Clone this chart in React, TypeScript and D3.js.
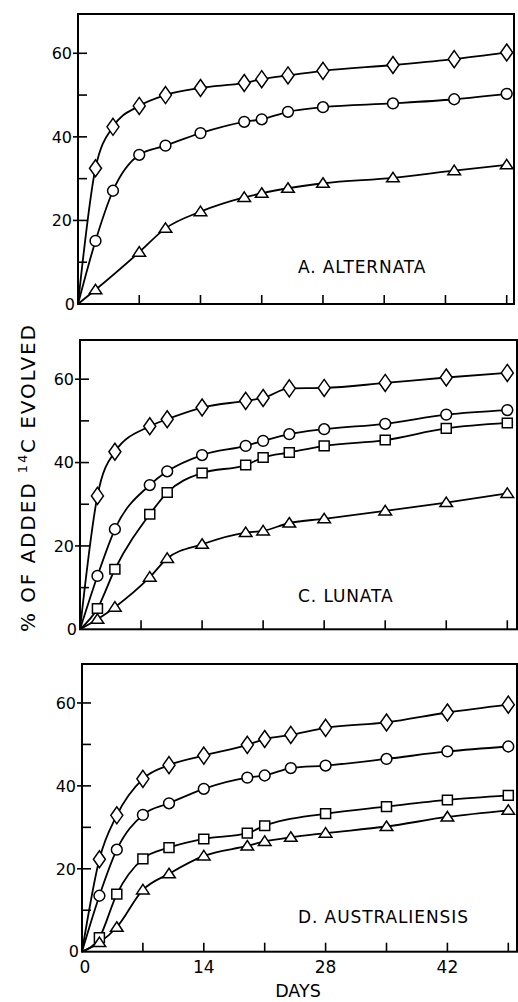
import React from 'react';
import * as d3 from 'd3';

// ---------- DATA ----------
const X_TICKS = [7, 14, 21, 28, 35, 42, 49];
const X_TICK_LABELS = [0, 14, 28, 42];
const Y_MAJOR = [20, 40, 60];
const Y_MINOR = [10, 30, 50];

// Panel A. ALTERNATA
const A_DAYS = [2, 4, 7, 10, 14, 19, 21, 24, 28, 36, 43, 49];
const A_TRI_DAYS = [2, 7, 10, 14, 19, 21, 24, 28, 36, 43, 49];
const A_DIAMOND = [32.5, 42.4, 47.4, 50.0, 51.7, 52.9, 53.8, 54.7, 55.8, 57.2, 58.6, 60.2];
const A_CIRCLE = [15.1, 27.1, 35.7, 37.9, 40.9, 43.6, 44.2, 46.0, 47.1, 48.0, 49.0, 50.3];
const A_TRIANGLE = [3.4, 12.4, 18.1, 22.1, 25.5, 26.5, 27.7, 28.9, 30.2, 31.9, 33.3];

// Panel C. LUNATA
const C_DAYS = [2, 4, 8, 10, 14, 19, 21, 24, 28, 35, 42, 49];
const C_DIAMOND = [32.0, 42.6, 48.7, 50.4, 53.2, 54.8, 55.5, 57.8, 57.9, 59.1, 60.4, 61.5];
const C_CIRCLE = [12.8, 24.0, 34.6, 37.9, 41.8, 44.0, 45.2, 46.8, 48.0, 49.3, 51.5, 52.6];
const C_SQUARE = [5.0, 14.4, 27.6, 32.8, 37.5, 39.4, 41.2, 42.4, 44.0, 45.4, 48.2, 49.5];
const C_TRIANGLE = [2.4, 5.3, 12.5, 17.0, 20.4, 23.2, 23.6, 25.5, 26.5, 28.4, 30.4, 32.6];

// Panel D. AUSTRALIENSIS
const D_DAYS = [2, 4, 7, 10, 14, 19, 21, 24, 28, 35, 42, 49];
const D_SQ_DAYS = [2, 4, 7, 10, 14, 19, 21, 28, 35, 42, 49];
const D_DIAMOND = [22.3, 32.9, 41.7, 45.0, 47.3, 49.9, 51.3, 52.3, 54.0, 55.3, 57.7, 59.6];
const D_CIRCLE = [13.5, 24.6, 33.0, 35.8, 39.3, 42.0, 42.5, 44.3, 44.9, 46.5, 48.3, 49.5];
const D_SQUARE = [3.4, 13.9, 22.4, 25.1, 27.2, 28.6, 30.4, 33.3, 35.0, 36.6, 37.7];
const D_TRIANGLE = [2.2, 5.9, 14.9, 18.8, 23.1, 25.5, 26.6, 27.6, 28.6, 30.2, 32.5, 34.1];

const PANEL_LABELS = ['A. ALTERNATA', 'C. LUNATA', 'D. AUSTRALIENSIS'];
const Y_LABEL_PRE = '% OF ADDED ';
const Y_LABEL_SUP = '14';
const Y_LABEL_POST = 'C EVOLVED';
const X_LABEL = 'DAYS';

// ---------- LAYOUT ----------
const W = 518;
const H = 1002;
const Y_MAX = 69.4;
const FONT = "'DejaVu Sans', sans-serif";

type Marker = 'diamond' | 'circle' | 'square' | 'triangle';
interface Series { marker: Marker; days: number[]; values: number[]; }

const panels = [
  {
    label: PANEL_LABELS[0], left: 78, right: 514, top: 14, bottom: 304, x49: 506.7, labelY: 272.7,
    series: [
      { marker: 'diamond', days: A_DAYS, values: A_DIAMOND },
      { marker: 'circle', days: A_DAYS, values: A_CIRCLE },
      { marker: 'triangle', days: A_TRI_DAYS, values: A_TRIANGLE },
    ] as Series[],
  },
  {
    label: PANEL_LABELS[1], left: 80, right: 517, top: 340, bottom: 629.3, x49: 507.3, labelY: 601.7,
    series: [
      { marker: 'diamond', days: C_DAYS, values: C_DIAMOND },
      { marker: 'circle', days: C_DAYS, values: C_CIRCLE },
      { marker: 'square', days: C_DAYS, values: C_SQUARE },
      { marker: 'triangle', days: C_DAYS, values: C_TRIANGLE },
    ] as Series[],
  },
  {
    label: PANEL_LABELS[2], left: 82, right: 517, top: 664, bottom: 951.7, x49: 508.3, labelY: 922.7,
    series: [
      { marker: 'diamond', days: D_DAYS, values: D_DIAMOND },
      { marker: 'circle', days: D_DAYS, values: D_CIRCLE },
      { marker: 'square', days: D_SQ_DAYS, values: D_SQUARE },
      { marker: 'triangle', days: D_DAYS, values: D_TRIANGLE },
    ] as Series[],
  },
];

function MarkerShape({ type, x, y }: { type: Marker; x: number; y: number }) {
  const common = { fill: 'white', stroke: 'black', strokeWidth: 1.5 };
  if (type === 'circle') return <circle cx={x} cy={y} r={5.4} {...common} />;
  let d = '';
  if (type === 'diamond') d = 'M0,-8.5L6,0L0,8.5L-6,0Z';
  else if (type === 'square') d = 'M-5,-4.8H5V4.8H-5Z';
  else d = 'M0,-5.5L6.3,4L-6.3,4Z';
  return <path d={d} transform={`translate(${x},${y})`} {...common} />;
}

function Panel({ p, showX }: { p: (typeof panels)[number]; showX: boolean }) {
  const x = d3.scaleLinear().domain([0, 49]).range([p.left, p.x49]);
  const y = d3.scaleLinear().domain([0, Y_MAX]).range([p.bottom, p.top]);
  const line = d3
    .line<[number, number]>()
    .x((d) => x(d[0]))
    .y((d) => y(d[1]))
    .curve(d3.curveMonotoneX);

  return (
    <g>
      {/* frame */}
      <rect x={p.left} y={p.top} width={p.right - p.left} height={p.bottom - p.top}
        fill="none" stroke="black" strokeWidth={2} />
      {/* y ticks */}
      {Y_MAJOR.map((v) => (
        <g key={'ym' + v}>
          <line x1={p.left - 5} x2={p.left + 9} y1={y(v)} y2={y(v)} stroke="black" strokeWidth={1.6} />
          <text x={p.left - 6} y={y(v)} dy="0.36em" textAnchor="end" fontSize={16} fontFamily={FONT}>{v}</text>
        </g>
      ))}
      {Y_MINOR.map((v) => (
        <line key={'yn' + v} x1={p.left} x2={p.left + 9} y1={y(v)} y2={y(v)} stroke="black" strokeWidth={1.6} />
      ))}
      <text x={p.left - 3} y={y(0)} dy="0.36em" textAnchor="end" fontSize={16} fontFamily={FONT}>0</text>
      {/* x ticks */}
      {X_TICKS.map((v) => (
        <line key={'xt' + v} x1={x(v)} x2={x(v)} y1={p.bottom} y2={p.bottom - 9} stroke="black" strokeWidth={1.6} />
      ))}
      {showX &&
        X_TICK_LABELS.map((v) => (
          <text key={'xl' + v} x={x(v) + (v === 0 ? 3 : 0)} y={p.bottom + 21.5} textAnchor="middle"
            fontSize={17} fontFamily={FONT}>{v}</text>
        ))}
      {/* curves */}
      {p.series.map((s, i) => {
        const pts: [number, number][] = [[0, 0], ...s.days.map((d, j) => [d, s.values[j]] as [number, number])];
        return <path key={'l' + i} d={line(pts) || ''} fill="none" stroke="black" strokeWidth={1.8} />;
      })}
      {/* markers */}
      {p.series.map((s, i) =>
        s.days.map((d, j) => <MarkerShape key={'m' + i + '-' + j} type={s.marker} x={x(d)} y={y(s.values[j])} />)
      )}
      {/* panel label */}
      <text x={298} y={p.labelY} fontSize={17} letterSpacing={0.9} fontFamily={FONT}>{p.label}</text>
    </g>
  );
}

export default function App() {
  return (
    <svg width={W} height={H} style={{ position: 'absolute', left: 0, top: 0, background: 'white' }}>
      <rect x={0} y={0} width={W} height={H} fill="white" />
      {panels.map((p, i) => (
        <Panel key={i} p={p} showX={i === panels.length - 1} />
      ))}
      <text transform="translate(35,478.5) rotate(-90)" textAnchor="middle" fontSize={20} fontFamily={FONT}
        textLength={307} lengthAdjust="spacing">
        <tspan>{Y_LABEL_PRE}</tspan>
        <tspan fontSize={13} dy={-8}>{Y_LABEL_SUP}</tspan>
        <tspan dy={8}>{Y_LABEL_POST}</tspan>
      </text>
      <text x={298} y={997} textAnchor="middle" fontSize={17.5} fontFamily={FONT}>{X_LABEL}</text>
    </svg>
  );
}
